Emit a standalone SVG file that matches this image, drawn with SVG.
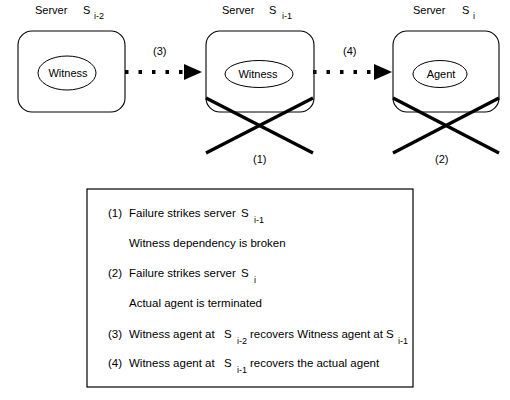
<svg xmlns="http://www.w3.org/2000/svg" width="510" height="400" viewBox="0 0 510 400">
<style>
text{font-family:"Liberation Sans",Arial,sans-serif;fill:#000}
.t{font-size:11px}
.l{font-size:11.5px}
.s{font-size:9px}
.box{fill:#fff;stroke:#000;stroke-width:1.1}
.ell{fill:none;stroke:#000;stroke-width:1}
.x{stroke:#000;stroke-width:3.3;fill:none}
.dot{stroke:#000;stroke-width:4;stroke-dasharray:3.5 10;fill:none}
.c{text-anchor:middle}
</style>
<defs>
<marker id="ah" viewBox="0 0 18 16" refX="18" refY="8" markerWidth="18" markerHeight="16" markerUnits="userSpaceOnUse" orient="auto">
<path d="M0,0 L18,8 L0,16 Z" fill="#000"/>
</marker>
</defs>
<g id="server-i-2">
<text class="t" x="35" y="14">Server</text>
<text class="t" x="83" y="14">S</text>
<text class="s" x="94" y="19">i-2</text>
<rect class="box" x="18" y="31" width="107" height="81" rx="14"/>
<ellipse class="ell" cx="67" cy="73" rx="29" ry="17"/>
<text class="t c" x="68" y="77">Witness</text>
</g>
<g id="server-i-1">
<text class="t" x="222" y="14">Server</text>
<text class="t" x="269" y="14">S</text>
<text class="s" x="282" y="19">i-1</text>
<rect class="box" x="206" y="31" width="108" height="81" rx="14"/>
<ellipse class="ell" cx="259" cy="74" rx="34" ry="13.5"/>
<text class="t c" x="258" y="78">Witness</text>
<line class="x" x1="206" y1="98" x2="313" y2="153"/>
<line class="x" x1="313" y1="98" x2="206" y2="153"/>
<text class="t" x="253" y="163">(1)</text>
</g>
<g id="server-i">
<text class="t" x="413" y="14">Server</text>
<text class="t" x="462" y="14">S</text>
<text class="s" x="473" y="19">i</text>
<rect class="box" x="393" y="31" width="106" height="81" rx="14"/>
<ellipse class="ell" cx="440" cy="74" rx="27" ry="13.5"/>
<text class="t c" x="441" y="78">Agent</text>
<line class="x" x1="393" y1="98" x2="499" y2="153"/>
<line class="x" x1="499" y1="98" x2="393" y2="153"/>
<text class="t" x="435" y="163">(2)</text>
</g>
<g id="connectors">
<path class="dot" d="M125,72 L184,72"/>
<path d="M184,72 L202,72" stroke="none" marker-end="url(#ah)"/>
<text class="t" x="153" y="55">(3)</text>
<path class="dot" d="M313,72 L375,72"/>
<path d="M375,72 L392,72" stroke="none" marker-end="url(#ah)"/>
<text class="t" x="343" y="55">(4)</text>
</g>
<g id="legend">
<rect x="87" y="189" width="326" height="198" fill="#fff" stroke="#000" stroke-width="1.2"/>
<text class="l" x="108" y="217">(1)</text>
<text class="l" x="129" y="217">Failure strikes server</text>
<text class="l" x="241" y="217">S</text>
<text class="s" x="254" y="223">i-1</text>
<text class="l" x="129" y="247">Witness dependency is broken</text>
<text class="l" x="108" y="277">(2)</text>
<text class="l" x="129" y="277">Failure strikes server</text>
<text class="l" x="241" y="277">S</text>
<text class="s" x="254" y="283">i</text>
<text class="l" x="129" y="307">Actual agent is terminated</text>
<text class="l" x="108" y="338">(3)</text>
<text class="l" x="129" y="338">Witness agent at</text>
<text class="l" x="224" y="338">S</text>
<text class="s" x="237" y="344">i-2</text>
<text class="l" x="250" y="338">recovers Witness agent at</text>
<text class="l" x="386" y="338">S</text>
<text class="s" x="398" y="344">i-1</text>
<text class="l" x="108" y="367">(4)</text>
<text class="l" x="129" y="367">Witness agent at</text>
<text class="l" x="224" y="367">S</text>
<text class="s" x="237" y="373">i-1</text>
<text class="l" x="250" y="367">recovers the actual agent</text>
</g>
</svg>
